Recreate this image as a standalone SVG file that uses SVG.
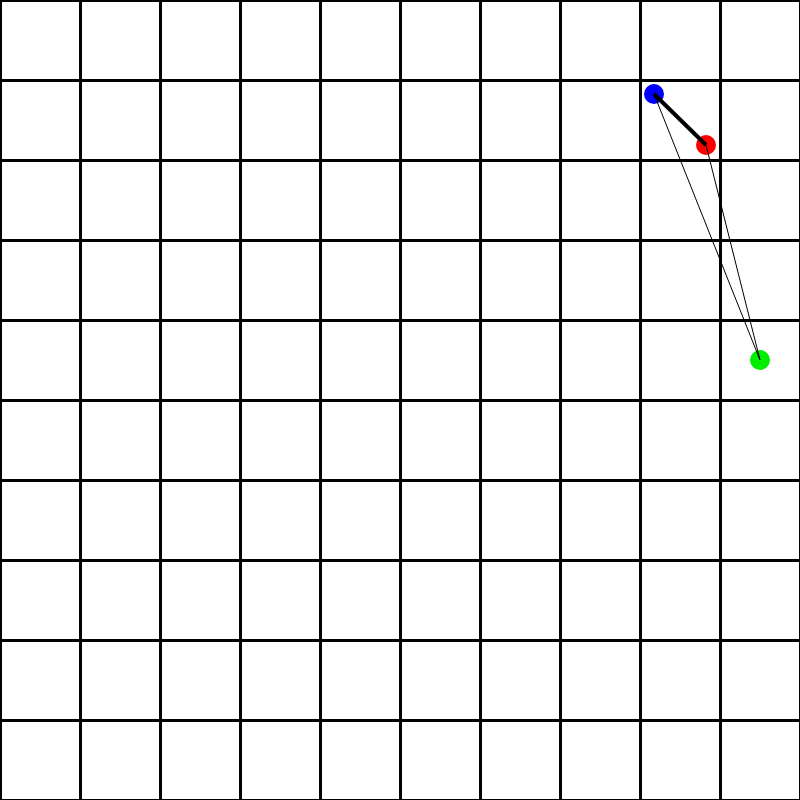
<svg xmlns="http://www.w3.org/2000/svg" width="800" height="800" viewBox="0 0 800 800">
<style>
.grid line{stroke:#000;stroke-width:3}
.pt{stroke:none}
.thin{stroke:#000;stroke-width:1;fill:none}
.thick{stroke:#000;stroke-width:4;fill:none}
</style>
<rect width="800" height="800" fill="#fff"/>
<g class="grid">
<line x1="0.5" y1="0" x2="0.5" y2="800"/>
<line x1="80.5" y1="0" x2="80.5" y2="800"/>
<line x1="160.5" y1="0" x2="160.5" y2="800"/>
<line x1="240.5" y1="0" x2="240.5" y2="800"/>
<line x1="320.5" y1="0" x2="320.5" y2="800"/>
<line x1="400.5" y1="0" x2="400.5" y2="800"/>
<line x1="480.5" y1="0" x2="480.5" y2="800"/>
<line x1="560.5" y1="0" x2="560.5" y2="800"/>
<line x1="640.5" y1="0" x2="640.5" y2="800"/>
<line x1="720.5" y1="0" x2="720.5" y2="800"/>
<line x1="800.5" y1="0" x2="800.5" y2="800"/>
<line x1="0" y1="0.5" x2="800" y2="0.5"/>
<line x1="0" y1="80.5" x2="800" y2="80.5"/>
<line x1="0" y1="160.5" x2="800" y2="160.5"/>
<line x1="0" y1="240.5" x2="800" y2="240.5"/>
<line x1="0" y1="320.5" x2="800" y2="320.5"/>
<line x1="0" y1="400.5" x2="800" y2="400.5"/>
<line x1="0" y1="480.5" x2="800" y2="480.5"/>
<line x1="0" y1="560.5" x2="800" y2="560.5"/>
<line x1="0" y1="640.5" x2="800" y2="640.5"/>
<line x1="0" y1="720.5" x2="800" y2="720.5"/>
<line x1="0" y1="800.5" x2="800" y2="800.5"/>
</g>
<g id="node-blue"><circle class="pt" cx="654" cy="94" r="10" fill="#0000ff"/></g>
<g id="node-red"><circle class="pt" cx="706" cy="145" r="10" fill="#ff0000"/></g>
<g id="node-green"><circle class="pt" cx="760" cy="360" r="10" fill="#00ee00"/></g>
<g id="connectors">
<line class="thick" x1="654" y1="94" x2="706" y2="145"/>
<line class="thin" x1="654" y1="94" x2="760" y2="360"/>
<line class="thin" x1="706" y1="145" x2="760" y2="360"/>
</g>
</svg>
